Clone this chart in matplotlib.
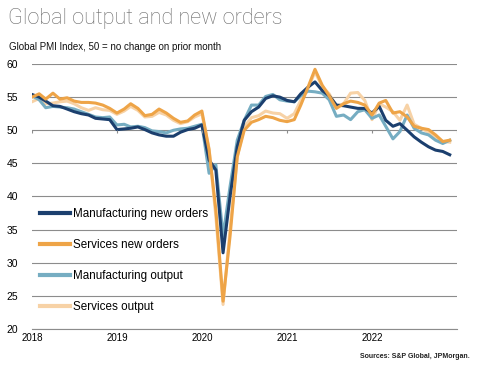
import numpy as np
import pandas as pd
import matplotlib.pyplot as plt
import matplotlib.dates as mdates

# monthly, Jan 2018 - Dec 2022
months = pd.date_range('2018-01-01', periods=60, freq='MS')

mfg_new_orders = [55.4, 55.0, 54.4, 53.7, 53.6, 53.2, 52.8, 52.5, 52.3, 51.8, 51.7, 51.6,
                  50.1, 50.2, 50.3, 50.5, 50.1, 49.6, 49.3, 49.1, 49.1, 49.7, 50.1, 50.3,
                  50.8, 45.5, 44.0, 31.5, 40.0, 47.5, 51.5, 52.8, 53.5, 54.8, 55.2, 55.0,
                  54.5, 54.3, 55.5, 56.5, 57.3, 56.0, 55.2, 53.8, 53.7, 53.5, 53.3, 53.3,
                  52.6, 53.6, 51.5, 50.6, 51.0, 50.0, 49.0, 48.2, 47.5, 47.0, 46.8, 46.3]

services_new_orders = [55.0, 55.5, 54.7, 55.6, 54.7, 54.9, 54.4, 54.2, 54.2, 54.1, 53.8, 53.3,
                       52.6, 53.2, 54.0, 53.3, 52.2, 52.4, 53.2, 52.6, 51.8, 51.2, 51.4, 52.3,
                       52.9, 47.0, 38.0, 24.2, 34.0, 46.0, 50.0, 51.2, 51.6, 52.1, 51.9, 51.5,
                       51.3, 51.6, 53.8, 56.5, 59.2, 56.8, 55.2, 53.3, 54.0, 54.4, 54.2, 53.8,
                       52.3, 54.1, 54.5, 52.6, 52.8, 52.0, 50.6, 50.3, 50.1, 49.3, 48.3, 48.5]

mfg_output = [55.2, 54.6, 53.4, 53.6, 53.5, 53.4, 53.2, 52.8, 52.4, 52.0, 51.9, 52.0,
              50.8, 50.9, 50.5, 50.6, 50.4, 49.9, 49.8, 49.6, 50.0, 50.2, 50.3, 50.6,
              50.9, 43.5, 44.8, 34.0, 41.5, 48.5, 51.5, 53.8, 53.8, 55.1, 55.4, 54.6,
              54.4, 54.3, 55.2, 55.9, 55.8, 55.6, 54.6, 52.1, 52.3, 51.6, 52.8, 53.1,
              51.8, 52.3, 50.6, 48.7, 49.8, 52.3, 50.3, 49.6, 49.3, 48.5, 48.0, 48.5]

services_output = [54.3, 54.8, 54.0, 54.1, 54.3, 54.4, 54.0, 53.4, 53.0, 53.4, 53.1, 53.0,
                   52.4, 52.9, 53.6, 53.0, 52.0, 52.1, 52.7, 52.3, 51.5, 51.0, 51.3, 52.0,
                   52.5, 47.2, 37.0, 23.7, 35.0, 46.0, 50.5, 51.9, 52.2, 52.9, 52.6, 52.5,
                   51.8, 52.5, 54.5, 56.3, 58.8, 56.6, 55.5, 53.6, 54.0, 55.6, 55.7, 54.5,
                   51.6, 54.0, 53.5, 52.8, 51.5, 53.8, 50.9, 50.3, 49.7, 49.0, 48.3, 48.2]

fig = plt.figure(figsize=(4.84, 3.74), dpi=100)
ax = fig.add_axes([0.0661, 0.1203, 0.878, 0.7086])

lw = 2.2
l4, = ax.plot(months, services_output, color='#f7d2a6', lw=lw, label='Services output')
l3, = ax.plot(months, mfg_output, color='#76adc2', lw=lw, label='Manufacturing output')
l1, = ax.plot(months, mfg_new_orders, color='#1b3f6e', lw=lw, label='Manufacturing new orders')
l2, = ax.plot(months, services_new_orders, color='#eea447', lw=lw, label='Services new orders')

ax.set_ylim(20, 60)
ax.set_yticks(range(20, 61, 5))
ax.set_xlim(pd.Timestamp('2018-01-01'), pd.Timestamp('2023-01-01'))
years = pd.date_range('2018-01-01', '2022-01-01', freq='YS')
ax.set_xticks(years)
ax.xaxis.set_major_formatter(mdates.DateFormatter('%Y'))

ax.grid(axis='y', color='#8c8c8c', lw=0.8)
ax.set_axisbelow(True)
for s in ['top', 'right', 'left']:
    ax.spines[s].set_visible(False)
ax.spines['bottom'].set_color('#8c8c8c')
ax.spines['bottom'].set_linewidth(0.8)
ax.tick_params(axis='y', length=0, pad=10, labelsize=7.5)
ax.tick_params(axis='x', length=0, pad=3, labelsize=7)
for lab in ax.get_xticklabels() + ax.get_yticklabels():
    lab.set_family('Liberation Sans')

# category axis ticks sit on the 50 line
ax.vlines(list(years) + [pd.Timestamp('2023-01-01')], 49.55, 50, color='#8c8c8c', lw=0.8)

ax.legend(handles=[l1, l2, l3, l4], loc='upper left', bbox_to_anchor=(0.019, 0.455),
          frameon=False, borderpad=0, borderaxespad=0, handlelength=2.6,
          handletextpad=0.2, labelspacing=1.62,
          prop={'family': 'Liberation Sans', 'size': 8.4})
for h in ax.get_legend().get_lines():
    h.set_linewidth(3)

fig.text(0.016, 0.935, 'Global output and new orders', fontsize=15.6, color='#6a6a6a',
         family='Roboto', weight='light')
fig.text(0.019, 0.865, 'Global PMI Index, 50 = no change on prior month', fontsize=7,
         family='Liberation Sans', color='#111111')
fig.text(0.971, 0.043, 'Sources: S&P Global, JPMorgan.', fontsize=5, ha='right',
         family='Liberation Sans', weight='bold', color='#222222')

fig.savefig('out.png', dpi=100)
